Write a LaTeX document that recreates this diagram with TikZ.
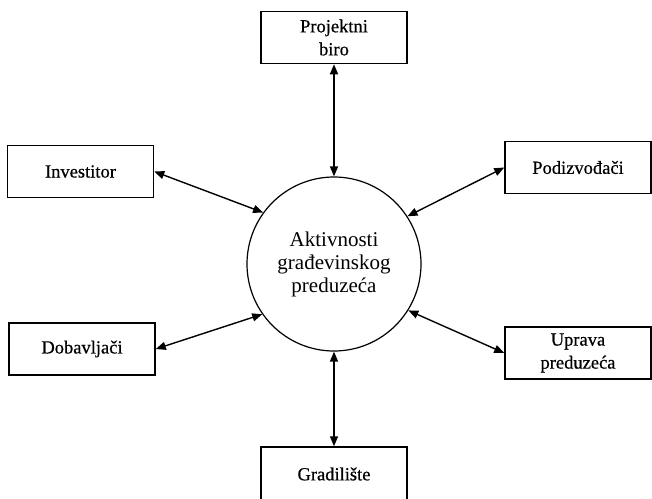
\documentclass[tikz,border=0pt]{standalone}
\usepackage{fontspec}
\setmainfont{Liberation Serif}
\newfontfamily\unitfont[FakeBold=0.5]{Liberation Serif}
\usetikzlibrary{arrows.meta}
\begin{document}
\begin{tikzpicture}[x=1pt,y=-1pt,
  unit/.style={draw,line width=1.5pt,fill=white,minimum width=146pt,minimum height=52pt,
    align=center,inner sep=0pt,font=\unitfont\fontsize{18.5}{23}\selectfont},
  core/.style={draw,circle,line width=1.2pt,minimum size=174pt,align=center,
    inner sep=0pt,font=\fontsize{21}{23}\selectfont},
  link/.style={line width=1.4pt,
    {Triangle[length=10pt,width=8pt]}-{Triangle[length=10pt,width=8pt]}}]
\clip (0,0) rectangle (652,498);
% central activity
\node[core] (c) at (334,264) {Aktivnosti\\građevinskog\\preduzeća};
% surrounding participants
\node[unit] (proj) at (334,37.5) {Projektni\\biro};
\node[unit] (inv)  at (80.5,171.5) {Investitor};
\node[unit] (pod)  at (578,167.5) {Podizvođači};
\node[unit] (dob)  at (82,349) {Dobavljači};
\node[unit] (upr)  at (578,353) {Uprava\\preduzeća};
\node[unit,minimum height=54pt] (gra) at (334,474) {Gradilište};
% two-way links
\draw[link] (proj.south) -- (c.north);
\draw[link] (inv.east) -- (c.144.7);
\draw[link] (pod.west) -- (c.33.5);
\draw[link] (dob.east) -- (c.215.8);
\draw[link] (upr.west) -- (c.328.8);
\draw[link] (c.south) -- (gra.north);
\end{tikzpicture}
\end{document}
